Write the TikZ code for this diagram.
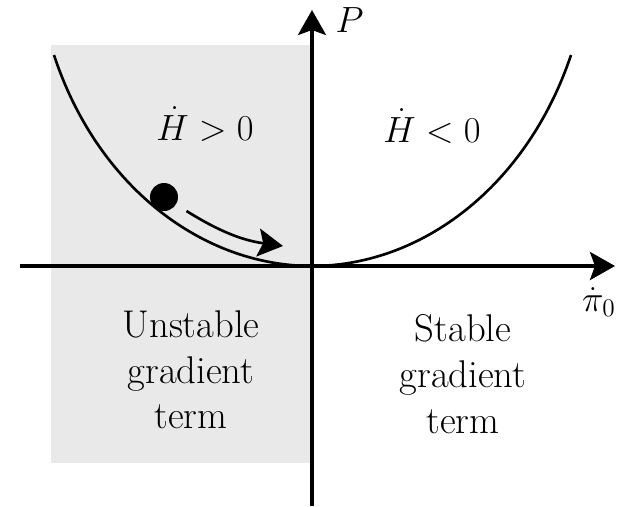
\documentclass[tikz,border=0pt]{standalone}
\usepackage{tikz}
\usetikzlibrary{arrows.meta, positioning, calc}
\usepackage{amsmath}
\usepackage{xcolor}
\definecolor{shadegray}{RGB}{233, 233, 233}

\begin{document}
\begin{tikzpicture}[
    arr/.style={-{Stealth[length=5mm, width=5.6mm, inset=1mm]}},
    axis/.style={arr, line width=2.1pt},
    label/.style={align=center, font=\fontsize{22}{26}\selectfont}
  ]
    \useasboundingbox (-6.24,-4.80) rectangle (6.32,5.32);

    % unstable half
    \fill[shadegray] (-5.22,-3.94) rectangle (0,4.42);

    % axes
    \coordinate (xstart) at (-5.84,0);
    \coordinate (xend) at (6.06,0);
    \coordinate (ystart) at (0,-4.80);
    \coordinate (yend) at (0,5.12);
    \draw[axis] (xstart) -- (xend);
    \draw[axis] (ystart) -- (yend);
    \node[font=\huge, below=0.3cm of xend, xshift=-0.32cm] (xlab) {$\dot{\pi}_0$};
    \node[font=\huge, right=0.35cm of yend, yshift=-0.2cm] (ylab) {$P$};

    % potential
    \coordinate (vertex) at (0,0);
    \draw[line width=1.5pt]
      (-5.16,4.22) .. controls (-4.30,1.60) and (-2.20,0) .. (vertex)
      .. controls (2.20,0) and (4.30,1.60) .. (5.18,4.22);

    % rolling ball
    \node[circle, fill=black, inner sep=0pt, minimum size=0.56cm] (ball) at (-2.96,1.38) {};
    \coordinate (rollstart) at (-2.51,1.10);
    \coordinate (rollend) at (-0.58,0.40);
    \draw[arr, line width=1.5pt] (rollstart) to[bend right=12] (rollend);

    \node[label] (hpos) at (-2.14,2.84) {$\dot{H} > 0$};
    \node[label] (hneg) at (2.40,2.80) {$\dot{H} < 0$};

    \node[label] (unstable) at (-2.42,-2.08) {Unstable\\gradient\\term};
    \node[label] (stable) at (3.02,-2.16) {Stable\\gradient\\term};
  \end{tikzpicture}
\end{document}
